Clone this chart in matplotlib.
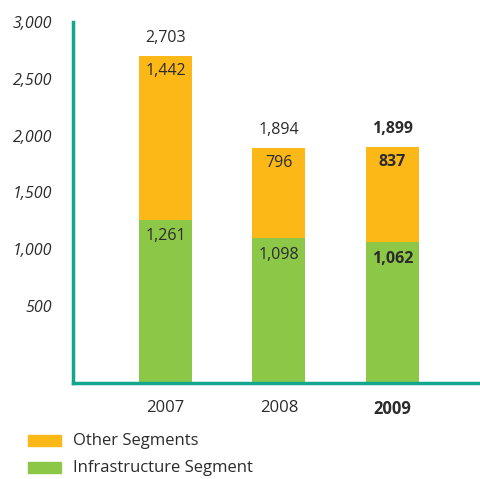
import numpy as np
from matplotlib import pyplot as plt

years = ["2007", "2008", "2009"]
infrastructure = [1261, 1098, 1062]
other = [1442, 796, 837]
totals = [2703, 1894, 1899]
y_ticks = [500, 1000, 1500, 2000, 2500, 3000]

orange = "#FBB817"
green = "#8DC747"
teal = "#13A58E"
text_c = "#2b2b2b"

plt.rcParams['font.family'] = ['Open Sans', 'DejaVu Sans']

fig = plt.figure(figsize=(4.81, 4.79), dpi=100)
ax = fig.add_axes([73/481, 1-383/479, (481-73)/481, (383-22)/479])

ymin = -176
x = np.arange(len(years))
w = 0.467
ax.bar(x, np.array(infrastructure) - ymin, bottom=ymin, width=w, color=green)
ax.bar(x, other, bottom=infrastructure, width=w, color=orange)

for i in range(len(years)):
    wt = "bold" if i == len(years) - 1 else "normal"
    ax.annotate(f"{totals[i]:,}", (x[i], totals[i]), xytext=(0, 13), textcoords="offset points",
                ha="center", va="center", fontsize=11.5, color=text_c, fontweight=wt)
    ax.annotate(f"{other[i]:,}", (x[i], totals[i]), xytext=(0, -11), textcoords="offset points",
                ha="center", va="center", fontsize=11.5, color=text_c, fontweight=wt)
    ax.annotate(f"{infrastructure[i]:,}", (x[i], infrastructure[i]), xytext=(0, -12), textcoords="offset points",
                ha="center", va="center", fontsize=11.5, color=text_c, fontweight=wt)

ax.set_xlim(-0.815, 2.78)
ax.set_ylim(ymin, 3000)
ax.set_yticks(y_ticks)
ax.set_yticklabels([f"{v:,}" for v in y_ticks], fontstyle="italic", fontsize=11.5, color=text_c)
ax.set_xticks(x)
ax.set_xticklabels(years, fontsize=12, color=text_c)
ax.get_xticklabels()[-1].set_fontweight("bold")
ax.tick_params(axis="y", length=0, pad=15)
ax.tick_params(axis="x", length=0, pad=12)

for s in ["top", "right"]:
    ax.spines[s].set_visible(False)
for s in ["left", "bottom"]:
    ax.spines[s].set_color(teal)
    ax.spines[s].set_linewidth(2.5)

# legend
fig.patches.append(plt.Rectangle((28/481, 1-446/479), 33/481, 11/479, color=orange, transform=fig.transFigure))
fig.patches.append(plt.Rectangle((28/481, 1-473/479), 33/481, 11/479, color=green, transform=fig.transFigure))
fig.text(73/481, 1-441/479, "Other Segments", fontsize=12, color=text_c, va="center")
fig.text(73/481, 1-468/479, "Infrastructure Segment", fontsize=12, color=text_c, va="center")

fig.savefig("out.png", dpi=100)
